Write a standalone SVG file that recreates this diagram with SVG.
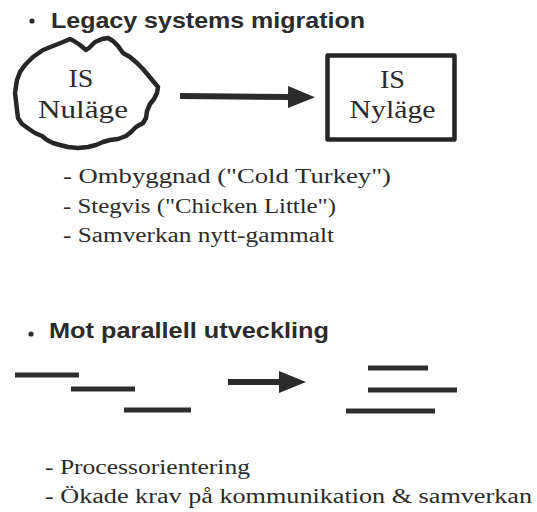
<svg xmlns="http://www.w3.org/2000/svg" width="537" height="512" viewBox="0 0 537 512">
  <defs>
    <style>
      .head { font-family: "Liberation Sans", Arial, sans-serif; font-weight: bold; font-size: 22px; fill: #2b2b2b; }
      .body { font-family: "Liberation Serif", "Times New Roman", serif; font-size: 20px; fill: #2b2b2b; }
      .label { font-family: "Liberation Serif", "Times New Roman", serif; font-size: 26px; fill: #2b2b2b; text-anchor: middle; }
      .outline { fill: none; stroke: #262626; stroke-width: 4.5; stroke-linejoin: round; }
      .shaft { stroke: #2b2b2b; stroke-width: 6; fill: none; }
      .bar { stroke: #2e2e2e; stroke-width: 5; }
      .dot { fill: #2b2b2b; }
    </style>
    <marker id="arrowhead" markerUnits="userSpaceOnUse" markerWidth="30" markerHeight="24" viewBox="0 0 30 24" refX="2" refY="11" orient="auto">
      <path d="M0,0 L27,11 L0,22 Z" fill="#2b2b2b"/>
    </marker>
  </defs>

  <rect width="537" height="512" fill="#ffffff"/>

  <!-- section 1 heading -->
  <g id="heading-legacy">
    <circle class="dot" cx="32" cy="21" r="2.6"/>
    <text class="head" x="51" y="28" textLength="314" lengthAdjust="spacingAndGlyphs">Legacy systems migration</text>
  </g>

  <!-- current system: irregular outline -->
  <g id="is-nulage">
    <path class="outline" d="M25,65 L33,57 L43,50 L53,46 L63,42 L70,39 L74,41 L80,45 L86,50 L89,48 L95,42 L102,39 L108,38 L113,41 L118,46 L123,53 L130,57 L137,63 L143,69 L148,75 L153,81 L158,87 L157,93 L154,99 L150,104 L147,111 L146,118 L143,123 L136,127 L131,132 L126,136 L118,139 L110,140 L103,142 L96,145 L88,147 L78,148 L68,147 L60,145 L53,143 L47,140 L42,136 L35,133 L29,129 L22,124 L18,118 L17,110 L16,101 L15,93 L16,86 L17,80 L20,72 Z"/>
    <text class="label" x="81" y="87" textLength="25" lengthAdjust="spacingAndGlyphs">IS</text>
    <text class="label" x="83" y="118" textLength="90" lengthAdjust="spacingAndGlyphs">Nuläge</text>
  </g>

  <!-- new system: plain box -->
  <g id="is-nylage">
    <rect class="outline" x="327.5" y="55.5" width="127" height="84"/>
    <text class="label" x="392.5" y="88" textLength="25" lengthAdjust="spacingAndGlyphs">IS</text>
    <text class="label" x="392.5" y="118" textLength="86" lengthAdjust="spacingAndGlyphs">Nyläge</text>
  </g>

  <!-- migration strategies -->
  <g id="list-legacy">
    <text class="body" x="63" y="183" textLength="328" lengthAdjust="spacingAndGlyphs">- Ombyggnad ("Cold Turkey")</text>
    <text class="body" x="63" y="213" textLength="273" lengthAdjust="spacingAndGlyphs">- Stegvis ("Chicken Little")</text>
    <text class="body" x="63" y="242" textLength="271" lengthAdjust="spacingAndGlyphs">- Samverkan nytt-gammalt</text>
  </g>

  <!-- section 2 heading -->
  <g id="heading-parallel">
    <circle class="dot" cx="31" cy="334" r="2.6"/>
    <text class="head" x="49" y="338" textLength="280" lengthAdjust="spacingAndGlyphs">Mot parallell utveckling</text>
  </g>

  <!-- sequential activities -->
  <g id="sequential">
    <line class="bar" x1="15" y1="375" x2="79" y2="375"/>
    <line class="bar" x1="71" y1="389" x2="135" y2="389"/>
    <line class="bar" x1="124" y1="410" x2="191" y2="410"/>
  </g>

  <!-- parallel activities -->
  <g id="parallel">
    <line class="bar" x1="368" y1="368" x2="428" y2="368"/>
    <line class="bar" x1="368" y1="390" x2="457" y2="390"/>
    <line class="bar" x1="346" y1="411" x2="435" y2="411"/>
  </g>

  <g id="connectors">
    <line class="shaft" x1="180" y1="96" x2="290" y2="97" marker-end="url(#arrowhead)"/>
    <line class="shaft" x1="228" y1="382" x2="281" y2="382" marker-end="url(#arrowhead)"/>
  </g>

  <!-- consequences -->
  <g id="list-parallel">
    <text class="body" x="45" y="474" textLength="205" lengthAdjust="spacingAndGlyphs">- Processorientering</text>
    <text class="body" x="45" y="503" textLength="487" lengthAdjust="spacingAndGlyphs">- Ökade krav på kommunikation &amp; samverkan</text>
  </g>
</svg>
